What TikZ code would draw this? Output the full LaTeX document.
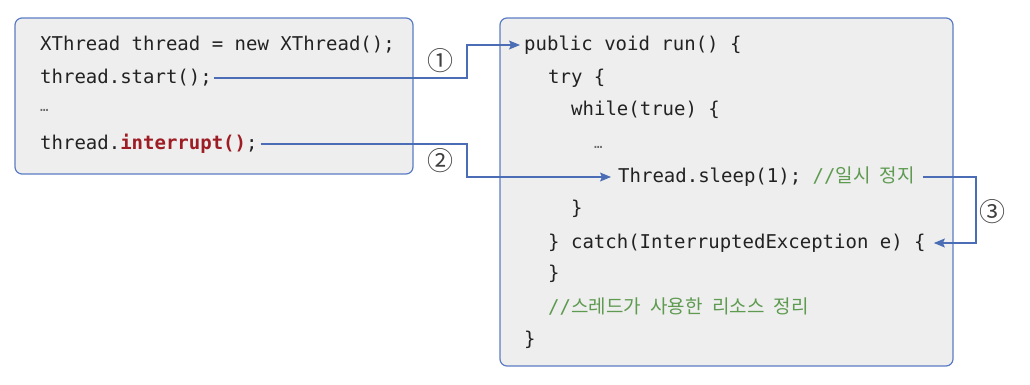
\documentclass[tikz,border=0pt]{standalone}
\usepackage{fontspec}
\setmonofont{DejaVu Sans Mono}
\newfontfamily\krfont[WordSpace=2.2]{Noto Sans CJK KR}
\usetikzlibrary{arrows.meta}
\definecolor{boxline}{HTML}{5B7CC4}
\definecolor{boxfill}{HTML}{EEEEEE}
\definecolor{flowblue}{HTML}{4A6DB5}
\definecolor{cmtgreen}{HTML}{5E9A50}
\definecolor{keyred}{HTML}{9E1C24}
\definecolor{codeblack}{HTML}{222222}
\newcommand{\krcmt}[1]{{\color{cmtgreen}//{\krfont\fontsize{19}{23}\selectfont #1}}}

\begin{document}
\begin{tikzpicture}[x=1pt,y=-1pt,
  codebox/.style={draw=boxline,fill=boxfill,line width=1.2pt,rounded corners=7pt},
  code/.style={anchor=west,inner xsep=0pt,inner ysep=0pt,text height=14pt,text depth=4pt,
    text=codeblack,font=\ttfamily\fontsize{19}{23}\selectfont},
  dots/.style={code,text=black!60,font=\ttfamily\fontsize{14}{18}\selectfont},
  flow/.style={draw=flowblue,line width=1.1pt,-{Stealth[length=11pt,width=9pt,inset=2pt]}},
  num/.style={font=\krfont\fontsize{26}{28}\selectfont,text=black!75}]
\useasboundingbox (0,0) rectangle (1030,384);

\draw[codebox] (15,18) rectangle (413,174);
\draw[codebox] (500,18) rectangle (953,366);

%main side
\node[code] (xnew) at (40,45) {XThread thread = new XThread();};
\node[code] (start) at (40,78) {thread.start();};
\node[dots] (ldots) at (40,106) {…};
\node[code] (intr) at (40,144) {thread.{\color{keyred}\bfseries interrupt()};};

%thread side
\node[code] (run) at (524,45) {public void run() \{};
\node[code] (try) at (548,78) {try \{};
\node[code] (while) at (571,110) {while(true) \{};
\node[dots] (rdots) at (594,143) {…};
\node[code] (sleep) at (618,177) {Thread.sleep(1); \krcmt{일시 정지}};
\node[code] (wend) at (571,209) {\}};
\node[code] (catch) at (548,243) {\} catch(InterruptedException e) \{};
\node[code] (cend) at (548,274) {\}};
\node[code] (clean) at (548,308) {\krcmt{스레드가 사용한 리소스 정리}};
\node[code] (rend) at (524,340) {\}};

%connectors
\coordinate (turn) at (467,0);
\coordinate (back) at (976,0);
\draw[flow] ([xshift=2pt]start.east) -- (start.east -| turn) |- ([xshift=-4pt]run.west);
\draw[flow] ([xshift=3pt]intr.east) -- (intr.east -| turn) |- ([xshift=-7pt]sleep.west);
\draw[flow] ([xshift=8pt]sleep.east) -- (sleep.east -| back) |- ([xshift=8pt]catch.east);

\node[num] (one) at (440,61) {①};
\node[num] (two) at (440,161) {②};
\node[num] (three) at (992,212) {③};

\end{tikzpicture}
\end{document}
